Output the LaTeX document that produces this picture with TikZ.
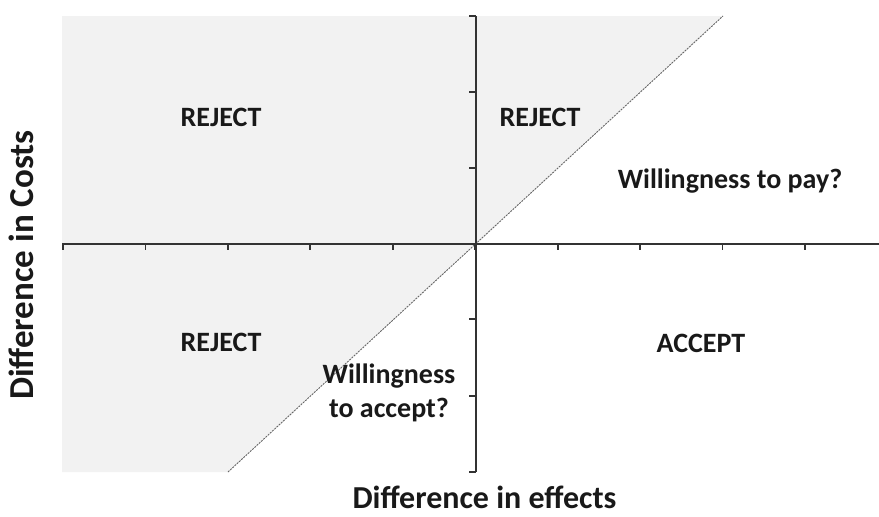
\documentclass[tikz,border=0pt]{standalone}
\usepackage{fontspec}
\setmainfont{Carlito}
\begin{document}
\begin{tikzpicture}[x=1pt,y=-1pt,
  lbl/.style={font=\bfseries\fontsize{28}{34}\selectfont, text=black!90, inner sep=0pt, align=center, anchor=base},
  axlbl/.style={font=\bfseries\fontsize{32}{38}\selectfont, text=black!90, inner sep=0pt, anchor=base},
  axisline/.style={draw=black!80, line width=2pt},
  tickmark/.style={draw=black!80, line width=1.8pt},
  diagline/.style={draw=black!60, line width=0.9pt, dash pattern=on 2pt off 1pt},
  shadearea/.style={fill=black!5}]
\useasboundingbox (0,0) rectangle (879,517);
% key points
\coordinate (O) at (475.5,243.5);
\coordinate (xl) at (62,243.5);
\coordinate (xr) at (879,243.5);
\coordinate (yt) at (475.5,16);
\coordinate (yb) at (475.5,472);
\coordinate (d1) at (228,472);
\coordinate (d2) at (723,16);
\coordinate (tl) at (62,16);
\coordinate (bl) at (62,472);
% shaded reject area
\fill[shadearea] (tl) -- (d2) -- (d1) -- (bl) -- cycle;
% diagonal
\draw[diagline] (d1) -- (d2);
% ticks
\foreach \k in {0,...,9}
  \draw[tickmark] (63+82.44*\k,243.5) -- ++(0,6);
\foreach \yy in {16,92,168,319,396,472}
  \draw[tickmark] (475.5,\yy) -- ++(-6.5,0);
% axes
\draw[axisline] (xl) -- (xr);
\draw[axisline] (yt) -- (yb);
% labels
\node[lbl] (rej1) at (221,126) {REJECT};
\node[lbl] (rej2) at (540,126) {REJECT};
\node[lbl] (wtp) at (730,188) {Willingness to pay?};
\node[lbl] (rej3) at (221,351) {REJECT};
\node[lbl] (acc) at (701,352) {ACCEPT};
\node[lbl] (wta) at (389,417) {Willingness\\to accept?};
\node[axlbl] (xlab) at (484.5,508) {Difference in effects};
\node[axlbl, rotate=90, font=\bfseries\fontsize{35}{40}\selectfont] (ylab) at (33,265) {Difference in Costs};
\end{tikzpicture}
\end{document}
